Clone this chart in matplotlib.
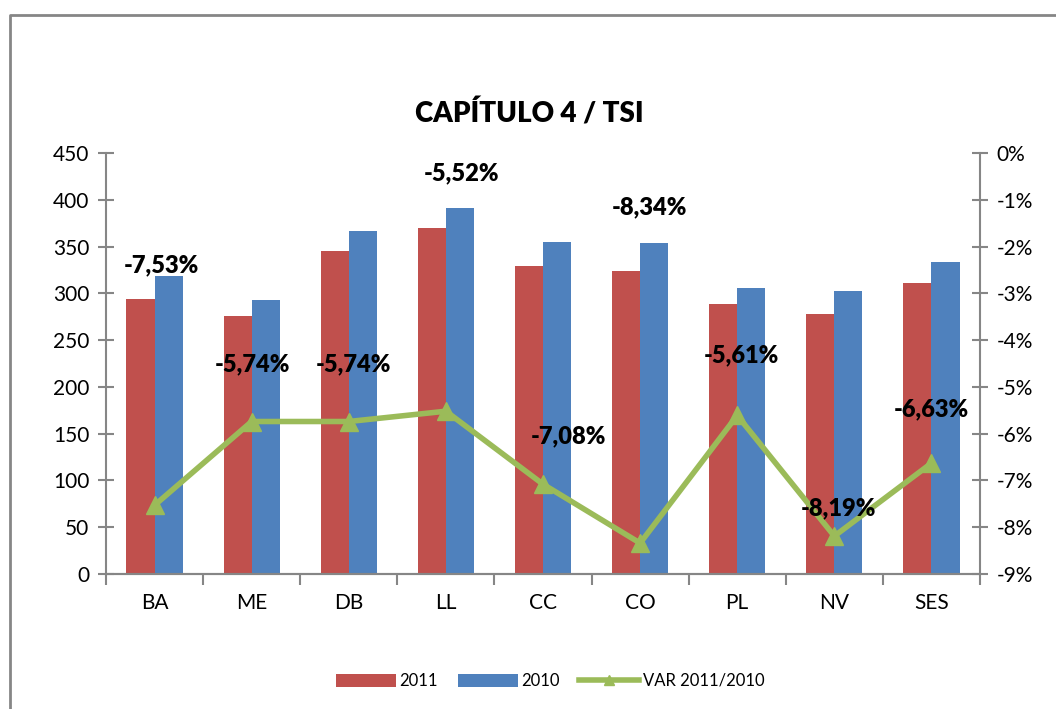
import matplotlib.pyplot as plt
import numpy as np
from matplotlib.lines import Line2D
from matplotlib.ticker import FuncFormatter

plt.rcParams['font.family'] = ['Lato', 'DejaVu Sans']

categories = ["BA", "ME", "DB", "LL", "CC", "CO", "PL", "NV", "SES"]
vals_2011 = [294, 276, 345, 370, 329, 324, 289, 278, 311]
vals_2010 = [318, 293, 367, 391, 355, 354, 306, 302, 333]
var_pct = [-7.53, -5.74, -5.74, -5.52, -7.08, -8.34, -5.61, -8.19, -6.63]
# where each data label sits relative to its marker (pixels, x right / y up)
label_shift = [(7, 240), (1, 57), (5, 57), (16, 238), (25, 48), (9, 336), (4, 60), (4, 28), (0, 54)]

red = "#C0504D"
blue = "#4F81BD"
green = "#9BBB59"
gray = "#868686"

W, H = 1056, 709
fig = plt.figure(figsize=(W / 100, H / 100), dpi=100)
ax = fig.add_axes([106 / W, 1 - 574 / H, (980 - 106) / W, (574 - 153) / H])

x = np.arange(len(categories))
bw = 0.29
ax.bar(x - bw / 2, vals_2011, bw, color=red, label="2011", zorder=2)
ax.bar(x + bw / 2, vals_2010, bw, color=blue, label="2010", zorder=2)
ax.set_xlim(-0.5, len(categories) - 0.5)
ax.set_ylim(0, 450)
ax.set_yticks(range(0, 451, 50))

ax2 = ax.twinx()
ln, = ax2.plot(x, var_pct, color=green, lw=4, marker="^", ms=13, label="VAR 2011/2010", zorder=3)
ax2.set_ylim(-9, 0)
ax2.set_yticks(range(-9, 1))
ax2.yaxis.set_major_formatter(FuncFormatter(lambda v, p: f"{int(round(v))}%"))

for i, v in enumerate(var_pct):
    dx, dy = label_shift[i]
    ax2.annotate(f"{v:.2f}%".replace(".", ","), (x[i], v), xytext=(dx * 0.72, dy * 0.72),
                 textcoords="offset points", ha="center", va="center",
                 fontsize=17, fontweight="heavy", color="black", zorder=4)

for a in (ax, ax2):
    a.spines["top"].set_visible(False)
    for s in ("left", "right", "bottom"):
        a.spines[s].set_color(gray)
        a.spines[s].set_linewidth(1.5)
    a.tick_params(axis="y", direction="inout", length=12, width=1.5, color=gray, labelsize=15, pad=6)
ax2.spines["left"].set_visible(False)
ax.spines["right"].set_visible(False)

ax.set_xticks(x)
ax.set_xticklabels(categories)
ax.tick_params(axis="x", length=0, labelsize=15, pad=14)
ax.set_xticks(np.arange(-0.5, len(categories)), minor=True)
ax.tick_params(axis="x", which="minor", direction="out", length=8, width=1.5, color=gray)

fig.text(529 / W, 1 - 113 / H, "CAPÍTULO 4 / TSI", ha="center", va="center",
         fontsize=20, fontweight="heavy")

h1, l1 = ax.get_legend_handles_labels()
fig.legend(h1 + [ln], l1 + ["VAR 2011/2010"], loc="center", bbox_to_anchor=(550 / W, 1 - 681 / H),
           ncol=3, frameon=False, fontsize=12, handlelength=3.6, handleheight=0.8,
           columnspacing=1.2, handletextpad=0.2, markerscale=0.6)

fig.add_artist(Line2D([10 / W, 10 / W, 1], [0, 1 - 15 / H, 1 - 15 / H], color=gray, lw=2,
                      transform=fig.transFigure))

fig.savefig("out.png", dpi=100)
